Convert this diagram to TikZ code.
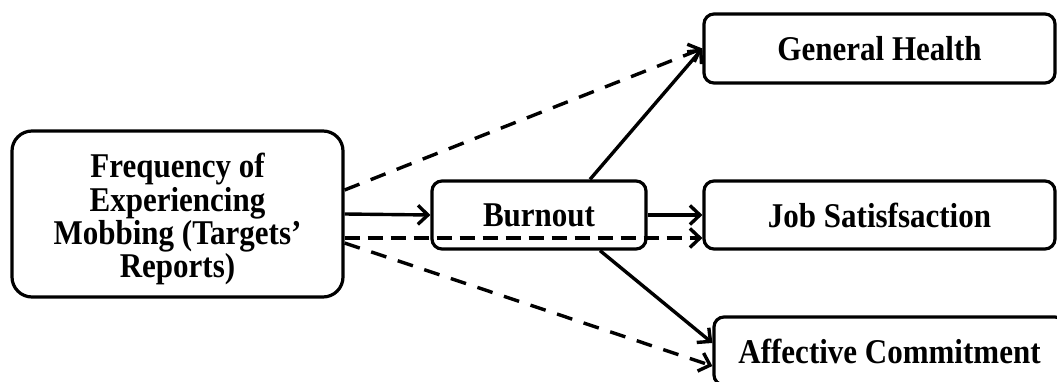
\documentclass[tikz,border=0pt]{standalone}
\usepackage{fontspec}
\setmainfont{Liberation Serif}
\usepackage{graphicx}
\usetikzlibrary{arrows.meta}
\newcommand\vtext[1]{\scalebox{1}[1.12]{#1}}
\begin{document}
\begin{tikzpicture}[x=1pt,y=1pt,
  box/.style={draw, line width=3.2pt, rounded corners=10pt, inner sep=0pt,
    font=\fontsize{31}{29.5}\selectfont\bfseries},
  conn/.style={line width=3.4pt, -{Straight Barb[length=10pt,width=19pt]}},
  dsh/.style={conn, dash pattern=on 15pt off 8pt},
  dshs/.style={conn, dash pattern=on 16pt off 12pt}]
\useasboundingbox (0,0) rectangle (1057,381);
\clip (0,0) rectangle (1057,381);
\node[box, rounded corners=20pt, minimum width=331, minimum height=166] (freq) at (177.5,167)
  {\raisebox{-5pt}[\height][\depth]{\vtext{\parbox{320pt}{\centering Frequency of\\Experiencing\\Mobbing (Targets’\\Reports)}}}};
\node[box, minimum width=214, minimum height=68] (burnout) at (539,166) {\vtext{Burnout}};
\node[box, minimum width=351, minimum height=69] (gh) at (879.5,332.5) {\vtext{General Health}};
\node[box, minimum width=351, minimum height=68] (job) at (879.5,166) {\vtext{Job Satisfsaction}};
\node[box, minimum width=351, minimum height=68] (ac) at (889.5,30) {\vtext{Affective Commitment}};
\draw[conn] (freq.east) -- (burnout.west);
\draw[conn] (burnout.east) -- (job.west);
\draw[dsh] ([yshift=-24pt]freq.east) -- ([yshift=-24pt]freq.east -| job.west);
\draw[dshs] ([yshift=24pt]freq.east) -- (gh.west);
\draw[conn] ([xshift=51pt]burnout.north) -- (gh.west);
\draw[conn] ([xshift=61pt]burnout.south) -- ([yshift=8pt]ac.west);
\draw[dshs] ([yshift=-29pt]freq.east) -- ([yshift=-15pt]ac.west);
\end{tikzpicture}
\end{document}
